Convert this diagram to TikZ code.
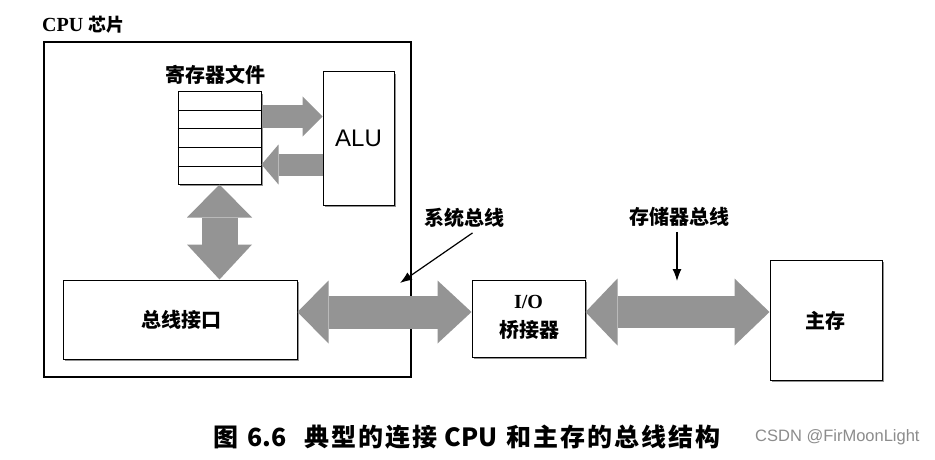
\documentclass[tikz,border=0pt]{standalone}
\usepackage{fontspec}
\setmainfont{Liberation Serif}
\newfontfamily\cjk{Noto Sans CJK SC}
\newfontfamily\capfont[LetterSpace=8]{Noto Sans CJK SC}
\newfontfamily\arialfont{Liberation Sans}
\usetikzlibrary{arrows.meta,shadows,calc}
\definecolor{busgray}{RGB}{148,148,148}
\definecolor{wmgray}{RGB}{140,140,140}
\tikzset{
  box/.style={draw=black, line width=1pt, fill=white, inner sep=0pt,
    drop shadow={shadow xshift=1.6pt, shadow yshift=-1.6pt, fill=black!85}},
  lbl/.style={font=\cjk\bfseries\fontsize{20}{22}\selectfont, inner sep=0pt},
  bigbus/.style={draw=busgray, line width=#1},
  ptr/.style={draw=black, line width=1.2pt, -{Latex[length=12pt,width=9pt]}},
}
\begin{document}
\begin{tikzpicture}[x=1pt,y=-1pt]
\useasboundingbox (0,0) rectangle (935,460);
\fill[white] (0,0) rectangle (935,460);

% CPU chip
\node[draw=black, line width=1.7pt, minimum width=367pt, minimum height=335pt, inner sep=0pt] (cpu) at (227.5,209.5) {};
\node[anchor=west, inner sep=0pt] (cpulbl) at (42,25) {\bfseries\fontsize{20}{22}\selectfont CPU \cjk\fontsize{18}{20}\selectfont 芯片};

% register file
\node[lbl] (reglbl) at (215.5,75) {寄存器文件};
\node[box, minimum width=83pt, minimum height=92pt] (reg) at (219.5,138) {};
\foreach \f in {0.2,0.4,0.6,0.8}
  \draw[line width=0.8pt] ($(reg.north west)!\f!(reg.south west)$) -- ($(reg.north east)!\f!(reg.south east)$);

% ALU
\node[box, minimum width=71pt, minimum height=133pt] (alu) at (358.5,138.5) {};
\node[font=\arialfont\fontsize{24}{26}\selectfont, inner sep=0pt] (alutxt) at (alu.center) {ALU};

% bus interface
\node[box, minimum width=234pt, minimum height=79pt] (busif) at (180,319.5) {};
\node[lbl] (busiftxt) at (181,320) {总线接口};

% I/O bridge
\node[box, minimum width=113pt, minimum height=77pt] (bridge) at (528.5,318.5) {};
\node[font=\bfseries\fontsize{20}{22}\selectfont, inner sep=0pt] (iotxt) at (528.5,302) {I/O};
\node[lbl] (bridgetxt) at (529,330) {桥接器};

% main memory
\node[box, minimum width=112pt, minimum height=120pt] (mem) at (826,320) {};
\node[lbl] (memtxt) at (825,321) {主存};

% register <-> ALU arrows
\coordinate (r1) at ($(reg.north east)+(0,25)$);
\coordinate (r2) at ($(reg.north east)+(0,73)$);
\draw[bigbus=22pt, -{Triangle[length=20pt,width=40pt,line width=0pt]}] (r1) -- (r1 -| alu.west);
\draw[bigbus=22pt, -{Triangle[length=17pt,width=40pt,line width=0pt]}] (r2 -| alu.west) -- (r2);

% register <-> bus interface
\draw[bigbus=36pt, {Triangle[length=33pt,width=65pt,line width=0pt]}-{Triangle[length=35pt,width=65pt,line width=0pt]}] (reg.south) -- (reg.south |- busif.north);

% system bus
\coordinate (s1) at ($(busif.east)+(0,-7.5)$);
\draw[bigbus=33pt, {Triangle[length=31pt,width=63pt,line width=0pt]}-{Triangle[length=34pt,width=63pt,line width=0pt]}] (s1) -- (s1 -| bridge.west);

% memory bus
\coordinate (m1) at ($(bridge.east)+(0,-6.5)$);
\draw[bigbus=32pt, {Triangle[length=32pt,width=67pt,line width=0pt]}-{Triangle[length=35pt,width=67pt,line width=0pt]}] (m1) -- (m1 -| mem.west);

% labels with pointers
\node[lbl] (syslbl) at (464.5,218) {系统总线};
\coordinate (sysptr) at (400,283);
\draw[ptr] ($(syslbl.south)+(8,5)$) -- (sysptr);

\node[lbl] (memlbl) at (679,217) {存储器总线};
\coordinate (memptr) at (677,281);
\draw[ptr] ($(memlbl.south)+(-2,5)$) -- (memptr);

% caption
\node[anchor=west, inner sep=0pt, font=\cjk\bfseries\fontsize{25}{27}\selectfont] (cap) at (213,437)
  {{\capfont 图}\hspace{9pt}6.6\hspace{18pt}{\capfont 典型的连接}\hspace{7pt}CPU\hspace{9pt}{\capfont 和主存的总线结构}};
\node[anchor=west, inner sep=0pt, text=wmgray, font=\arialfont\fontsize{16.5}{18}\selectfont] (wm) at (755,437) {CSDN @FirMoonLight};
\end{tikzpicture}
\end{document}
